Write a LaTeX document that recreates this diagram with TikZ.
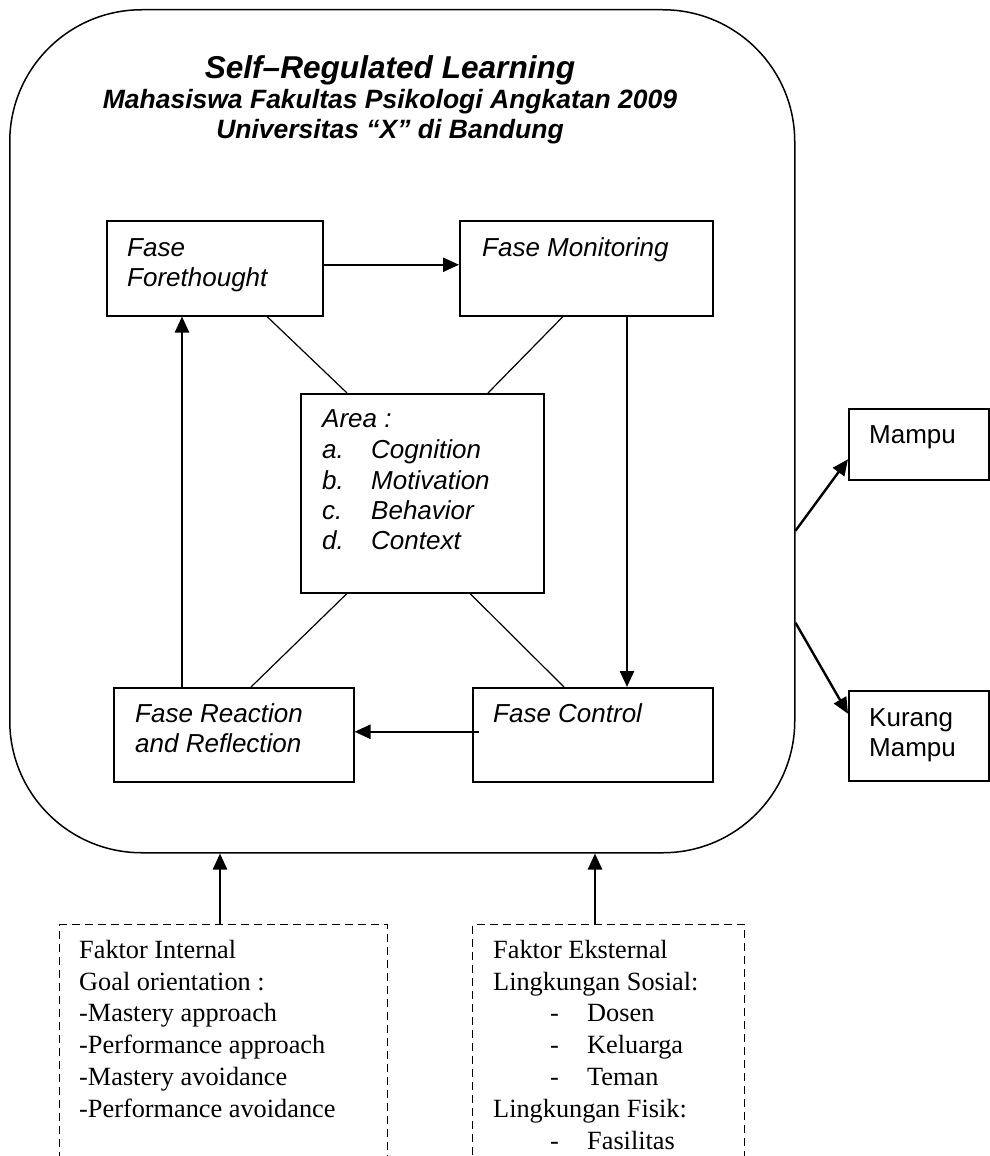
\documentclass[tikz,border=0pt]{standalone}
\usepackage{fontspec}
\setmainfont{Liberation Serif}
\newfontfamily\arial{Liberation Sans}
\usetikzlibrary{arrows.meta,calc}
\begin{document}
\begin{tikzpicture}[x=1pt,y=-1pt,
 box/.style={draw, line width=1.5pt, inner sep=0pt, anchor=north west},
 arr/.style={line width=2.4pt, -{Triangle[length=16pt,width=14pt]}},
 thinln/.style={line width=1.2pt},
 dbox/.style={draw, dash pattern=on 8pt off 5pt, line width=1.4pt, inner sep=0pt, anchor=north west},
 it/.style={font=\arial\itshape\fontsize{26}{30}\selectfont, anchor=base west, inner sep=0pt},
 sf/.style={font=\arial\fontsize{26}{30}\selectfont, anchor=base west, inner sep=0pt},
 rm/.style={font=\fontsize{26.3}{30}\selectfont, anchor=base west, inner sep=0pt},
 ttl/.style={font=\arial\bfseries\itshape\fontsize{26.5}{30}\selectfont, anchor=base, inner sep=0pt}]
\useasboundingbox (0,0) rectangle (990,1156);

% main rounded frame
\node[draw, line width=1.5pt, rounded corners=132pt, minimum width=785pt, minimum height=843pt, anchor=north west, inner sep=0pt] (main) at (9,9) {};

% titles
\node[ttl, font=\arial\bfseries\itshape\fontsize{31.6}{34}\selectfont] (t1) at (390,78) {Self–Regulated Learning};
\node[ttl] (t2) at (390,108) {Mahasiswa Fakultas Psikologi Angkatan 2009};
\node[ttl] (t3) at (390,138) {Universitas “X” di Bandung};

% phase boxes
\node[box, minimum width=216pt, minimum height=95pt] (fore) at (106,220) {};
\node[box, minimum width=253pt, minimum height=95pt] (mon) at (459,220) {};
\node[box, minimum width=243pt, minimum height=199pt] (area) at (300,393) {};
\node[box, minimum width=240pt, minimum height=94pt] (react) at (113,687) {};
\node[box, minimum width=240pt, minimum height=94pt] (ctrl) at (472,687) {};

\node[it] (foreA) at (127,256) {Fase};
\node[it] (foreB) at (127,286) {Forethought};
\node[it] (monA) at (482,256) {Fase Monitoring};
\node[it] (reactA) at (135,722) {Fase Reaction};
\node[it] (reactB) at (135,752) {and Reflection};
\node[it] (ctrlA) at (493,722) {Fase Control};

\node[it] (areaT) at (322,427) {Area :};
\foreach \l/\w/\y [count=\i] in {a./Cognition/458, b./Motivation/489, c./Behavior/519, d./Context/549}{
  \node[it] (areaL\i) at (322,\y) {\l};
  \node[it] (areaW\i) at (371,\y) {\w};
}

% outcome boxes
\node[box, minimum width=140pt, minimum height=71pt] (mampu) at (848,408) {};
\node[box, minimum width=140pt, minimum height=90pt] (kurang) at (848,690) {};
\node[sf] (mampuT) at (869,443) {Mampu};
\node[sf] (kurangA) at (869,726) {Kurang};
\node[sf] (kurangB) at (869,756) {Mampu};

% factor boxes (dashed, running off the bottom)
\node[dbox, minimum width=328pt, minimum height=300pt] (int) at (59,924) {};
\node[dbox, minimum width=272pt, minimum height=300pt] (ext) at (472,924) {};

\foreach \t/\y [count=\i] in {Faktor Internal/958, Goal orientation :/990, -Mastery approach/1021, -Performance approach/1053, -Mastery avoidance/1085, -Performance avoidance/1117}{
  \node[rm] (intL\i) at (79,\y) {\t};
}
\node[rm] (extL1) at (493,958) {Faktor Eksternal};
\node[rm] (extL2) at (493,990) {Lingkungan Sosial:};
\node[rm] (extL6) at (493,1117) {Lingkungan Fisik:};
\foreach \w/\y [count=\i] in {Dosen/1021, Keluarga/1053, Teman/1085, Fasilitas/1149}{
  \node[rm] (extD\i) at (550,\y) {-};
  \node[rm] (extW\i) at (587,\y) {\w};
}

% cycle arrows
\draw[arr] ([yshift=3.5pt]fore.east) -- ([yshift=3.5pt]mon.west);
\coordinate (d1) at ([xshift=168pt]mon.south west);
\draw[arr] (d1) -- (d1 |- ctrl.north);
\coordinate (c1) at ([xshift=7pt,yshift=3pt]ctrl.west);
\draw[arr] (c1) -- (c1 -| react.east);
\coordinate (u1) at ([xshift=69pt]react.north west);
\draw[arr] (u1) -- (u1 |- fore.south);

% links to area
\draw[thinln] ([xshift=161pt]fore.south west) -- ([xshift=47pt]area.north west);
\draw[thinln] ([xshift=104pt]mon.south west) -- ([xshift=188pt]area.north west);
\draw[thinln] ([xshift=47pt]area.south west) -- ([xshift=138pt]react.north west);
\draw[thinln] ([xshift=170pt]area.south west) -- ([xshift=92pt]ctrl.north west);

% outcome arrows
\draw[arr] ([yshift=-99.5pt]main.east) -- ([yshift=-15pt]mampu.west);
\draw[arr] ([yshift=-191.5pt]main.east) -- ([yshift=22pt]kurang.west);

% factor arrows
\coordinate (a1) at ([xshift=161pt]int.north west);
\draw[arr] (a1) -- (a1 |- main.south);
\coordinate (a2) at ([xshift=123pt]ext.north west);
\draw[arr] (a2) -- (a2 |- main.south);
\end{tikzpicture}
\end{document}
